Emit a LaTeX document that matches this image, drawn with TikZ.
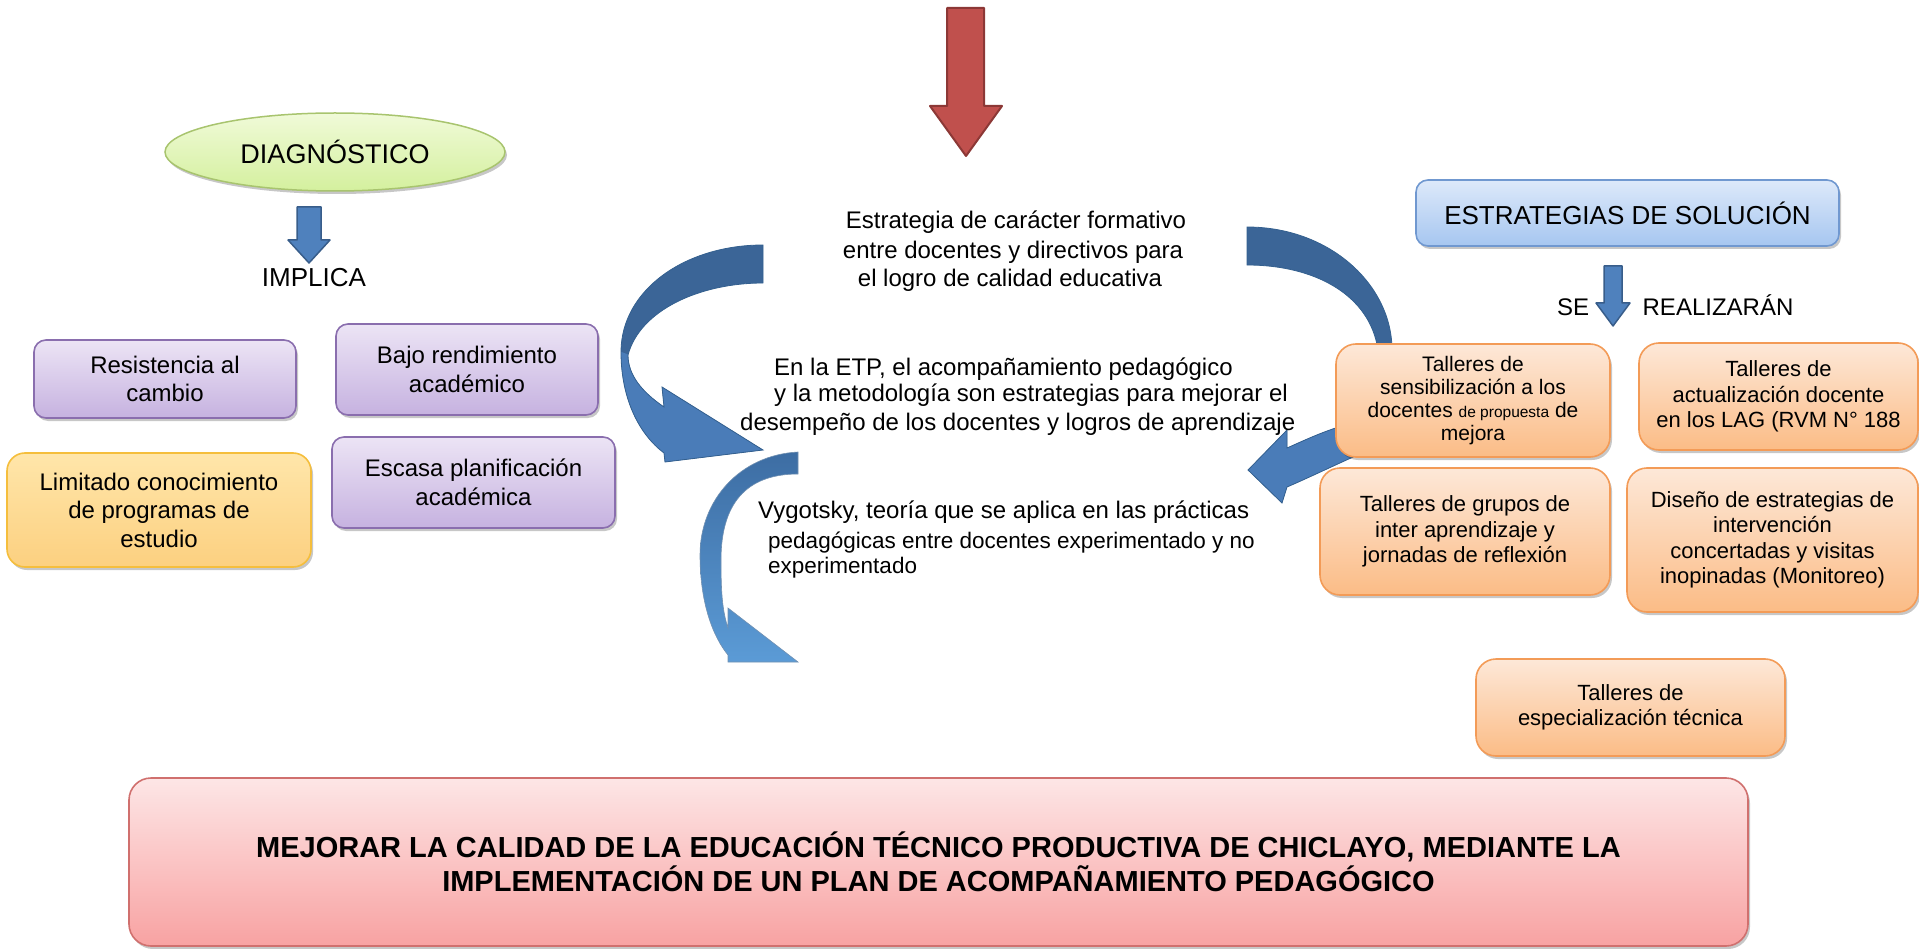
\documentclass[tikz,border=0pt]{standalone}
\usepackage{fontspec}
\setmainfont{Liberation Sans}
\usetikzlibrary{shapes.geometric,shadows}
\newcommand{\myfs}[2]{\fontsize{#1}{#2}\selectfont}
\definecolor{purT}{HTML}{ECE4F5}
\definecolor{purB}{HTML}{C6B2E0}
\definecolor{purD}{HTML}{8A6EAE}
\definecolor{limT}{HTML}{FFE6AA}
\definecolor{limB}{HTML}{FCD080}
\definecolor{limD}{HTML}{F5BE3C}
\definecolor{orT}{HTML}{FDE8D8}
\definecolor{orB}{HTML}{FBBC86}
\definecolor{orD}{HTML}{F39B57}
\definecolor{bluT}{HTML}{DDE9FA}
\definecolor{bluB}{HTML}{A6C6F0}
\definecolor{bluD}{HTML}{7098D0}
\definecolor{grnT}{HTML}{F0FAD8}
\definecolor{grnB}{HTML}{D4F09E}
\definecolor{grnD}{HTML}{A8C46E}
\definecolor{pinkT}{HTML}{FDE6E6}
\definecolor{pinkB}{HTML}{F8A2A2}
\definecolor{pinkD}{HTML}{D0706E}
\definecolor{redA}{HTML}{C0504D}
\definecolor{redD}{HTML}{8C3836}
\definecolor{sbA}{HTML}{4F81BD}
\definecolor{sbD}{HTML}{385D8A}
\definecolor{arcDark}{HTML}{3B6597}
\definecolor{arcLight}{HTML}{4A7CB8}
\definecolor{arcEdge}{HTML}{34608F}
\definecolor{vTop}{HTML}{3D6DA3}
\definecolor{vBot}{HTML}{5B9BD6}
\newcommand{\pathL}{(763,245) .. controls (685,245) and (621,290) .. (621,352) .. controls (621,400) and (640,435) .. (664,453) -- (665,462) -- (763,450) -- (662,387) -- (664,407) .. controls (642,392) and (628,375) .. (628,355) .. controls (640,310) and (700,283) .. (763,283) -- cycle}
\newcommand{\pathR}{(1247,227) .. controls (1330,227) and (1392,285) .. (1392,350) -- (1362,453) .. controls (1335,465) and (1308,478) .. (1287,487) -- (1282,503) -- (1248,470) -- (1287,430) -- (1287,448) .. controls (1305,440) and (1322,432) .. (1342,426) -- (1378,350) .. controls (1370,295) and (1315,265) .. (1247,265) -- cycle}
\newcommand{\pathV}{(798,452) .. controls (740,455) and (700,500) .. (700,555) .. controls (700,605) and (714,638) .. (728,655) -- (728,662) -- (798,662) -- (728,608) -- (728,628) .. controls (722,610) and (721,590) .. (721,560) .. controls (721,505) and (745,474) .. (798,474) -- cycle}
\tikzset{
  boxbase/.style={rounded corners=#1, inner sep=0pt, align=center, line width=1.6pt,
    drop shadow={shadow xshift=2pt, shadow yshift=-3pt, opacity=0.22, fill=black}},
  boxbase/.default=12pt,
  purplebox/.style={boxbase=12pt, draw=purD, top color=purT, bottom color=purB, font=\myfs{24}{28.5}},
  limbox/.style={boxbase=18pt, draw=limD, top color=limT, bottom color=limB, font=\myfs{24}{28.5}},
  orbox/.style={boxbase=20pt, draw=orD, top color=orT, bottom color=orB, font=\myfs{22}{25.5}},
  bluebox/.style={boxbase=12pt, draw=bluD, top color=bluT, bottom color=bluB, font=\myfs{26}{30}},
  goalbox/.style={boxbase=22pt, draw=pinkD, top color=pinkT, bottom color=pinkB, font=\myfs{29}{34}\bfseries},
  ln/.style={inner sep=0pt, anchor=base, font=\myfs{24}{28}},
  lnw/.style={inner sep=0pt, anchor=base west, font=\myfs{24}{28}},
  blockarrow/.style={fill=sbA, draw=sbD, line width=1.5pt, line join=round},
}
\begin{document}
\begin{tikzpicture}[x=1pt,y=-1pt]
\useasboundingbox (0,0) rectangle (1919,949);

% top red arrow
\draw[fill=redA, draw=redD, line width=2pt, line join=round]
  (947,8) -- (984,8) -- (984,106) -- (1002,106) -- (966,156) -- (930,106) -- (947,106) -- cycle;

% left curved arrow
\fill[arcDark] \pathL;
\begin{scope}
  \clip (590,340) -- (690,378) -- (820,378) -- (820,480) -- (590,480) -- cycle;
  \fill[arcLight] \pathL;
\end{scope}
\draw[arcEdge, line width=0.8pt] \pathL;

% right curved arrow
\fill[arcDark] \pathR;
\begin{scope}
  \clip (1230,400) rectangle (1420,520);
  \fill[arcLight] \pathR;
\end{scope}
\draw[arcEdge, line width=0.8pt] \pathR;

% lower curved arrow
\shade[top color=vTop, bottom color=vBot] \pathV;
\draw[arcEdge!70, line width=0.6pt] \pathV;

% diagnostic
\node[ellipse, draw=grnD, line width=1.5pt, top color=grnT, bottom color=grnB,
  minimum width=340pt, minimum height=78pt, inner sep=0pt, font=\myfs{27}{30},
  drop shadow={shadow xshift=2pt, shadow yshift=-3pt, opacity=0.22, fill=black}] (diag) at (335,152) {DIAGNÓSTICO};
\draw[blockarrow] (297,207) -- (321,207) -- (321,240) -- (330,240) -- (309,263) -- (288,240) -- (297,240) -- cycle;
\node[inner sep=0pt, anchor=base, font=\myfs{26}{30}] (impl) at (314,286.5) {IMPLICA};

\node[purplebox, minimum width=262pt, minimum height=78pt] (res) at (165,379) {Resistencia al\\cambio};
\node[purplebox, minimum width=262pt, minimum height=91pt] (bajo) at (467,369.5) {Bajo rendimiento\\académico};
\node[purplebox, minimum width=283pt, minimum height=91pt] (esc) at (473.5,482.5) {Escasa planificación\\académica};
\node[limbox, minimum width=304pt, minimum height=114pt] (lim) at (159,510) {Limitado conocimiento\\de programas de\\estudio};

% solution side
\node[bluebox, minimum width=423pt, minimum height=66pt] (sol) at (1627.5,213) {ESTRATEGIAS DE SOLUCIÓN};
\draw[blockarrow] (1604,266) -- (1622,266) -- (1622,303) -- (1630,303) -- (1613,326) -- (1596,303) -- (1604,303) -- cycle;
\node[ln] (se) at (1573,315.5) {SE};
\node[ln] (real) at (1718,315.5) {REALIZARÁN};

\node[orbox, font=\myfs{21}{22.8}, minimum width=274pt, minimum height=113pt] (sens) at (1473,400.5)
  {Talleres de\\sensibilización a los\\docentes {\myfs{15.5}{22.8}de propuesta} de\\mejora};
\node[orbox, minimum width=279pt, minimum height=107pt] (act) at (1778.5,396.5)
  {Talleres de\\actualización docente\\en los LAG (RVM N° 188};
\node[orbox, minimum width=290pt, minimum height=127pt] (grp) at (1465,531.5)
  {Talleres de grupos de\\inter aprendizaje y\\jornadas de reflexión};
\node[orbox, minimum width=291pt, minimum height=144pt] (dis) at (1772.5,540)
  {Diseño de estrategias de\\intervención\\concertadas y visitas\\inopinadas (Monitoreo)};
\node[orbox, minimum width=309pt, minimum height=97pt] (esp) at (1630.5,707.5)
  {Talleres de\\especialización técnica};

% central texts
\node[ln] (c1) at (1016,228.5) {Estrategia de carácter formativo};
\node[ln] (c2) at (1013,258.5) {entre docentes y directivos para};
\node[ln] (c3) at (1010,286.5) {el logro de calidad educativa};

\node[lnw] (e1) at (774,375.5) {En la ETP, el acompañamiento pedagógico};
\node[lnw] (e2) at (774,401.5) {y la metodología son estrategias para mejorar el};
\node[lnw] (e3) at (740,430.5) {desempeño de los docentes y logros de aprendizaje};

\node[lnw] (v1) at (758,518.5) {Vygotsky, teoría que se aplica en las prácticas};
\node[lnw, font=\myfs{22.5}{26}] (v2) at (768,548) {pedagógicas entre docentes experimentado y no};
\node[lnw, font=\myfs{22.5}{26}] (v3) at (768,573) {experimentado};

% goal
\node[goalbox, minimum width=1619pt, minimum height=168pt] (goal) at (938.5,862)
  {MEJORAR LA CALIDAD DE LA EDUCACIÓN TÉCNICO PRODUCTIVA DE CHICLAYO, MEDIANTE LA\\IMPLEMENTACIÓN DE UN PLAN DE ACOMPAÑAMIENTO PEDAGÓGICO};
\end{tikzpicture}
\end{document}
